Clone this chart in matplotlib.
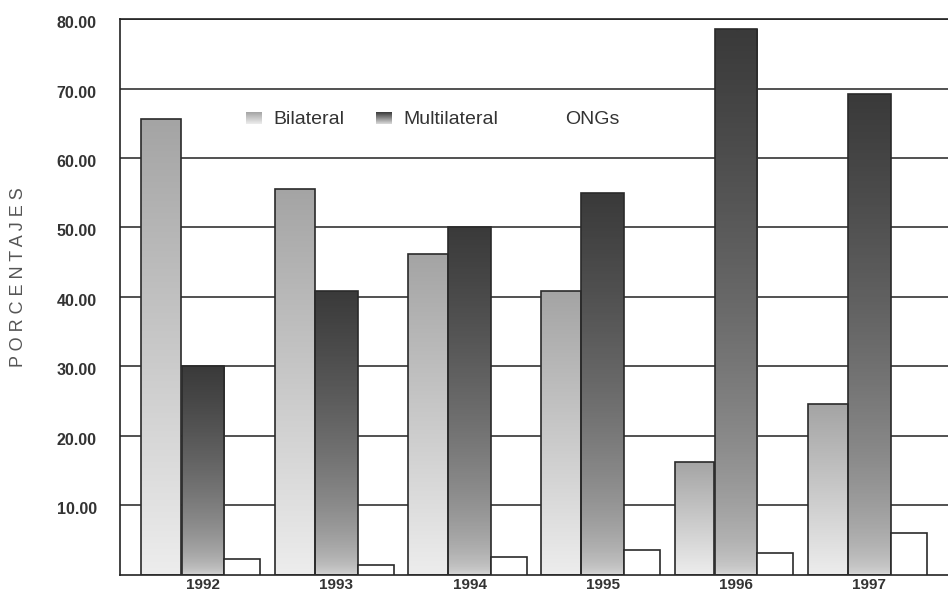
import numpy as np
import matplotlib
matplotlib.use('Agg')
import matplotlib.pyplot as plt
import matplotlib.transforms as mtransforms
from matplotlib.colors import LinearSegmentedColormap

plt.rcParams['font.family'] = ['Liberation Sans', 'DejaVu Sans']

# datos
years = ['1992', '1993', '1994', '1995', '1996', '1997']
bilateral = [65.6, 55.6, 46.2, 40.8, 16.3, 24.6]
multilateral = [30.0, 40.9, 50.1, 55.0, 78.5, 69.2]
ongs = [2.3, 1.4, 2.6, 3.6, 3.1, 6.0]
yticks = [10, 20, 30, 40, 50, 60, 70, 80]

cmap_bil = LinearSegmentedColormap.from_list('bil', ['#ededed', '#a4a4a4'])
cmap_mul = LinearSegmentedColormap.from_list('mul', ['#dadada', '#3a3a3a'])

fig = plt.figure(figsize=(9.48, 5.95), dpi=100)
ax = fig.add_axes([0.127, 0.034, 0.88, 0.934])


def grad_bar(x, h, w, cmap, gamma):
    bar = ax.bar(x, h, w, color='none', edgecolor='#2a2a2a', lw=1.2, zorder=3)[0]
    t = np.linspace(0, 1, 256) ** gamma
    im = ax.imshow(t.reshape(-1, 1), cmap=cmap, vmin=0, vmax=1, origin='lower',
                   extent=[x - w / 2, x + w / 2, 0, h], aspect='auto', zorder=2)
    im.set_clip_path(bar)


pos = np.arange(len(years))
for i in pos:
    grad_bar(i - 0.312, bilateral[i], 0.30, cmap_bil, 1.0)
    grad_bar(i, multilateral[i], 0.32, cmap_mul, 0.5)
# ONGs: barras blancas
ax.bar(pos + 0.16, ongs, 0.27, align='edge', color='white',
       edgecolor='#2a2a2a', lw=1.2, zorder=3)

ax.set_xlim(-0.62, 5.64)
ax.set_ylim(0, 80)
ax.set_yticks(yticks)
ax.set_yticklabels(['%.2f' % v for v in yticks], fontsize=11.5, fontweight='bold', color='#333333')
ax.set_xticks(pos)
ax.set_xticklabels(years, fontsize=11, fontweight='bold', color='#333333')
ax.tick_params(axis='y', length=0, pad=17)
ax.tick_params(axis='x', length=0, pad=2.5)
# etiquetas del eje y un poco por debajo de las lineas
shift = mtransforms.ScaledTranslation(0, -3 / 100, fig.dpi_scale_trans)
for lab in ax.get_yticklabels():
    lab.set_transform(lab.get_transform() + shift)
ax.yaxis.grid(True, color='#222222', lw=1.1)
ax.set_axisbelow(True)
for s in ['left', 'top', 'bottom', 'right']:
    ax.spines[s].set_color('#222222')
    ax.spines[s].set_linewidth(1.2)

fig.text(0.019, 1 - 277 / 595, 'P O R C E N T A J E S', rotation=90,
         ha='center', va='center', fontsize=13, color='#555555')

# leyenda
lx = [246 / 948, 376 / 948]
for x0, cm in zip(lx, [cmap_bil, cmap_mul]):
    lax = fig.add_axes([x0, 1 - 124 / 595, 16 / 948, 12 / 595])
    lax.imshow(np.linspace(0, 1, 64).reshape(-1, 1), cmap=cm, origin='lower', aspect='auto')
    lax.axis('off')
fig.text(273 / 948, 1 - 120 / 595, 'Bilateral', fontsize=14, color='#333333', va='center')
fig.text(403 / 948, 1 - 120 / 595, 'Multilateral', fontsize=14, color='#333333', va='center')
fig.text(565 / 948, 1 - 120 / 595, 'ONGs', fontsize=14, color='#333333', va='center')

fig.savefig('out.png', dpi=100)
